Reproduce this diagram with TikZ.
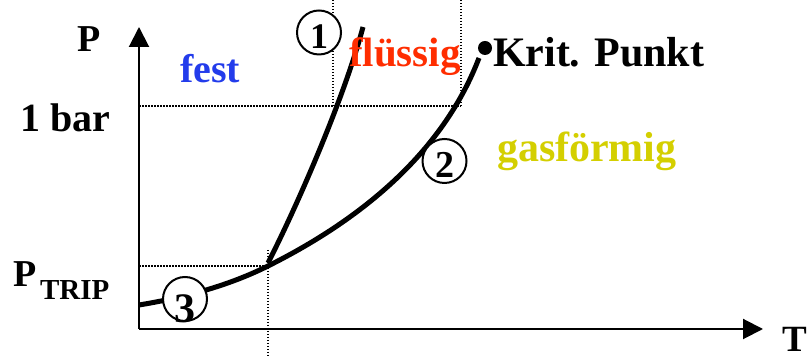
\documentclass[tikz,border=0pt]{standalone}
\usepackage{fontspec}
\setmainfont{Liberation Serif}
\usetikzlibrary{arrows.meta}
\definecolor{festblue}{RGB}{35,60,235}
\definecolor{fluessigred}{RGB}{255,45,0}
\definecolor{gasyellow}{RGB}{212,207,0}
\newcommand{\fsz}[1]{\fontsize{#1}{#1}\selectfont\bfseries}
\newcommand{\cdig}[3]{\fsz{#1}\raisebox{-#2}[0pt][0pt]{#3}}
\begin{document}
\begin{tikzpicture}[x=0.5pt,y=-0.5pt,
  axis/.style={line width=1pt,-{Triangle[length=10pt,width=10pt]}},
  guide/.style={line width=0.75pt,dash pattern=on 0.75pt off 0.75pt},
  phaseline/.style={line width=2.5pt},
  numcircle/.style={circle,draw,line width=1pt,fill=white,minimum size=22pt,inner sep=0pt},
  lbl/.style={anchor=base west,inner sep=0pt,outer sep=0pt}]
\useasboundingbox (0,0) rectangle (807,356);
% coordinates
\coordinate (origin) at (139,329);
\coordinate (ytip) at (139,27);
\coordinate (xtip) at (763,329);
\coordinate (trip) at (268,263);
\coordinate (tripv) at (268,266);
\coordinate (meltend) at (363,27);
\coordinate (vapstart) at (139,305);
\coordinate (vapend) at (479,58);
\coordinate (barY) at (139,106);
\coordinate (barR) at (461,106);
\coordinate (barA) at (333,106);
\coordinate (topA) at (333,0);
\coordinate (topR) at (461,0);
\coordinate (tripY) at (139,266);
\coordinate (tripX) at (268,266);
\coordinate (tripTop) at (268,250);
\coordinate (tripBot) at (268,356);
% dotted guides
\draw[guide] (barY) -- (barR);
\draw[guide] (topA) -- (barA);
\draw[guide] (topR) -- (barR);
\draw[guide] (tripY) -- (tripX);
\draw[guide] (tripTop) -- (tripBot);
% phase lines
\draw[phaseline] (trip) .. controls (300,200) and (345,95) .. (meltend);
\draw[phaseline] (vapstart) .. controls (200,295) and (240,280) .. (tripv)
  .. controls (350,225) and (440,160) .. (vapend);
% axes
\draw[axis] (origin) -- (ytip);
\draw[axis] (origin) -- (xtip);
% critical point
\node[circle,fill=black,minimum size=7pt,inner sep=0pt] (krit) at (485,48) {};
% numbered circles
\node[numcircle] (c1) at (319,32.5) {\cdig{18pt}{8.1pt}{1}};
\node[numcircle] (c2) at (444.5,161) {\cdig{19pt}{8.4pt}{2}};
\node[numcircle] (c3) at (185,299) {\cdig{21pt}{11.6pt}{3}};
% labels
\node[lbl] (P) at (77,52) {\fsz{19pt}P};
\node[lbl] (bar) at (20,132) {\fsz{20pt}1 bar};
\node[lbl] (ptrip) at (13,287) {\fsz{19pt}P};
\node[lbl] (tripsub) at (40,300) {\fsz{14.5pt}TRIP};
\node[lbl] (T) at (782,352) {\fsz{18.5pt}T};
\node[lbl,text=festblue] (fest) at (180,83) {\fsz{20pt}fest};
\node[lbl,text=fluessigred] (fl) at (349,67) {\fsz{20.5pt}flüssig};
\node[lbl,text=gasyellow] (gas) at (497,162) {\fsz{21pt}gasförmig};
\node[lbl] (kp) at (493,67) {\fsz{21pt}Krit. Punkt};
\end{tikzpicture}
\end{document}
